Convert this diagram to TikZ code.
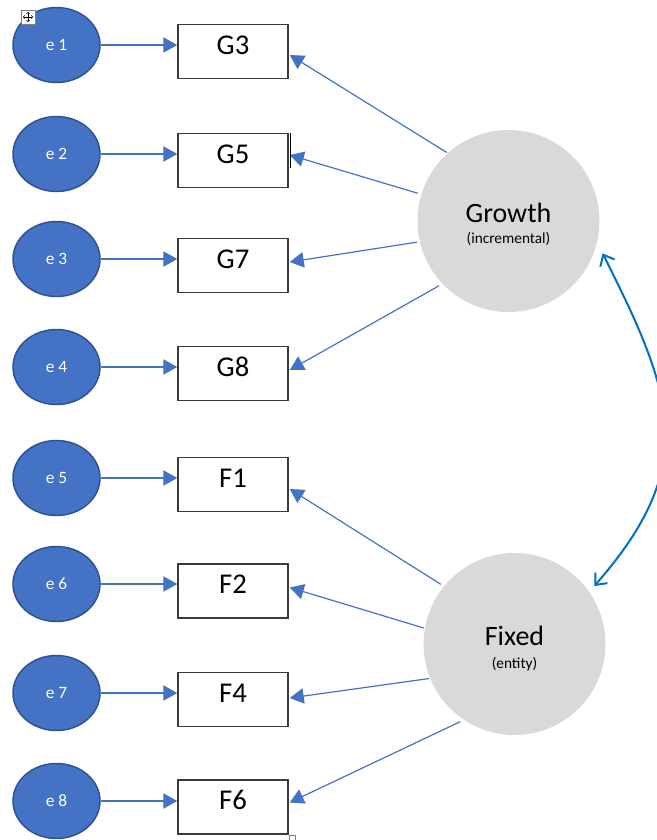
\documentclass[tikz,border=0pt]{standalone}
\usepackage{fontspec}
\setmainfont{Carlito}
\usetikzlibrary{arrows.meta,calc,shapes.geometric}
\definecolor{eblue}{HTML}{4472C4}
\definecolor{eborder}{HTML}{2F528F}
\definecolor{lgray}{HTML}{D9D9D9}
\definecolor{cblue}{HTML}{0070C0}
\definecolor{boxline}{HTML}{3A3A3A}
\begin{document}
\begin{tikzpicture}[x=0.75pt,y=-0.75pt,
  errnode/.style={ellipse, draw=eborder, line width=1.1pt, fill=eblue, inner sep=0pt,
    minimum width=65.25pt, minimum height=56.25pt, text=white, font=\fontsize{13}{15}\selectfont},
  itembox/.style={rectangle, draw=boxline, line width=1.1pt, fill=white, inner sep=0pt,
    minimum width=82.5pt, minimum height=40.5pt, text height=14pt, text depth=10.2pt,
    font=\fontsize{21.5}{24}\selectfont},
  latent/.style={circle, fill=lgray, inner sep=0pt, minimum size=136.5pt},
  title/.style={anchor=base, font=\fontsize{21}{24}\selectfont},
  subtitle/.style={anchor=base, font=\fontsize{11.5}{13}\selectfont},
  arr/.style={draw=eblue, line width=0.9pt, -{Triangle[length=10.5pt,width=11.5pt]}},
  corr/.style={draw=cblue, line width=1.5pt, {Straight Barb[length=7pt,width=12pt]}-{Straight Barb[length=7pt,width=12pt]}}
]
\useasboundingbox (0,0) rectangle (657,840);
\clip (0,0) rectangle (657,840);

% error terms
\node[errnode] (e1) at (56.5,45) {e 1};
\node[errnode] (e2) at (56.5,154) {e 2};
\node[errnode] (e3) at (56.5,259) {e 3};
\node[errnode] (e4) at (56.5,367) {e 4};
\node[errnode] (e5) at (56.5,478) {e 5};
\node[errnode] (e6) at (56.5,584) {e 6};
\node[errnode] (e7) at (56.5,693) {e 7};
\node[errnode] (e8) at (56.5,801) {e 8};

% indicators
\node[itembox] (G3) at (233,51.5) {G3};
\node[itembox] (G5) at (233,160.5) {G5};
\node[itembox] (G7) at (233,265.5) {G7};
\node[itembox] (G8) at (233,373.5) {G8};
\node[itembox] (F1) at (233,484.5) {F1};
\node[itembox] (F2) at (233,591) {F2};
\node[itembox] (F4) at (233,699.5) {F4};
\node[itembox] (F6) at (233,807) {F6};

% latent factors
\node[latent] (Growth) at (508.5,221) {};
\node[title] (GrowthT) at (508.5,222) {Growth};
\node[subtitle] (GrowthS) at (508.5,243) {(incremental)};
\node[latent] (Fixed) at (514.5,644) {};
\node[title] (FixedT) at (514.5,645) {Fixed};
\node[subtitle] (FixedS) at (514.5,668) {(entity)};

% error arrows
\draw[arr] (e1) -- (e1 -| G3.west);
\draw[arr] (e2) -- (e2 -| G5.west);
\draw[arr] (e3) -- (e3 -| G7.west);
\draw[arr] (e4) -- (e4 -| G8.west);
\draw[arr] (e5) -- (e5 -| F1.west);
\draw[arr] (e6) -- (e6 -| F2.west);
\draw[arr] (e7) -- (e7 -| F4.west);
\draw[arr] (e8) -- (e8 -| F6.west);

% loadings
\draw[arr] ($(Growth.center)!1.01!(Growth.132.4)$) -- ($(G3.east)+(1,3.5)$);
\draw[arr] ($(Growth.center)!1.04!(Growth.163.5)$) -- ($(G5.east)+(1,-5.5)$);
\draw[arr] ($(Growth.center)!1.03!(Growth.193)$) -- ($(G7.east)+(1,-3.5)$);
\draw[arr] ($(Growth.center)!1.04!(Growth.223)$) -- ($(G8.east)+(1,-3.5)$);
\draw[arr] ($(Fixed.center)!1.04!(Fixed.141.6)$) -- ($(F1.east)+(1,4.5)$);
\draw[arr] ($(Fixed.center)!1.01!(Fixed.170)$) -- ($(F2.east)+(1,-3.5)$);
\draw[arr] ($(Fixed.center)!1.01!(Fixed.202)$) -- ($(F4.east)+(1,-1.5)$);
\draw[arr] ($(Fixed.center)!1.04!(Fixed.235.6)$) -- ($(F6.east)+(1,-4.5)$);

% correlation
\draw[corr] ($(Growth.center)!1.09!(Growth.341.3)$) .. controls (674.5,396) and (699.7,465.8) .. ($(Fixed.center)!1.08!(Fixed.36.9)$);

% editor artefacts
\draw[black, line width=1pt] (290.5,133) -- (290.5,168);
\draw[gray, line width=0.5pt, fill=white] (21,10) rectangle (35,24);
\draw[black, line width=0.45pt, -{Straight Barb[length=1.2pt,width=2.4pt]}] (28,17) -- (28,11.8);
\draw[black, line width=0.45pt, -{Straight Barb[length=1.2pt,width=2.4pt]}] (28,17) -- (28,22.2);
\draw[black, line width=0.45pt, -{Straight Barb[length=1.2pt,width=2.4pt]}] (28,17) -- (22.8,17);
\draw[black, line width=0.45pt, -{Straight Barb[length=1.2pt,width=2.4pt]}] (28,17) -- (33.2,17);
\draw[gray, line width=0.5pt, fill=white] (289.5,835.5) rectangle (295,841);
\end{tikzpicture}
\end{document}
